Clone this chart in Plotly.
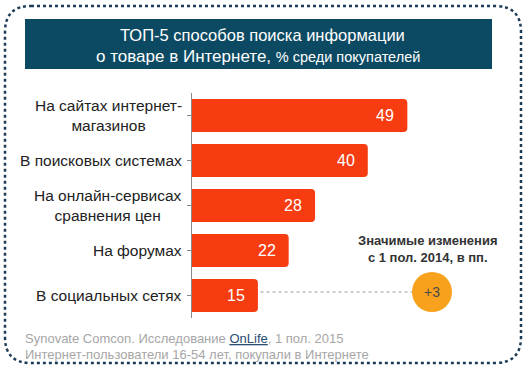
import plotly.graph_objects as go

# ---- data ----
categories = [
    "На сайтах интернет-<br>магазинов",
    "В поисковых системах",
    "На онлайн-сервисах<br>сравнения цен",
    "На форумах",
    "В социальных сетях",
]
values = [49, 40, 28, 22, 15]
change_category_index = 4
change_label = "+3"

title_line1 = "ТОП-5 способов поиска информации"
title_line2a = "о товаре в Интернете, "
title_line2b = "% среди покупателей"
change_title = "<b>Значимые изменения<br>с 1 пол. 2014, в пп.</b>"
footer1 = "Synovate Comcon. Исследование <span style='color:#2a4d74'><u>OnLife</u></span>, 1 пол. 2015"
footer2 = "Интернет-пользователи 16-54 лет, покупали в Интернете"

# ---- layout constants ----
W, H = 532, 369
L, R, T, B = 192, 6, 93, 51
PW, PH = W - L - R, H - T - B
XMAX = 76.0
PX_PER_UNIT = PW / XMAX

BAR_COLOR = "#f63c10"
CIRCLE_COLOR = "#f7a11d"
BOX_COLOR = "#0c4a63"
FONT = "Liberation Sans, Arial, sans-serif"


def px2paper_x(px):
    return (px - L) / PW


def py2paper_y(py):
    return (H - B - py) / PH


fig = go.Figure()
fig.add_trace(go.Bar(
    x=values, y=list(range(len(categories))), orientation="h",
    marker=dict(color=BAR_COLOR, line=dict(width=0), cornerradius=4),
    width=0.73, hoverinfo="skip",
))

annotations = []
# category labels
for i, c in enumerate(categories):
    annotations.append(dict(
        x=0, xref="paper", y=i, yref="y", xanchor="right", yanchor="middle",
        xshift=-8, text=c, showarrow=False, align="center",
        font=dict(family=FONT, size=15.5, color="#222222"),
    ))
# value labels
for i, v in enumerate(values):
    annotations.append(dict(
        x=v, xref="x", y=i, yref="y", xanchor="right", yanchor="middle",
        xshift=-11, text=str(v), showarrow=False,
        font=dict(family=FONT, size=16, color="white"),
    ))

# title
annotations.append(dict(
    x=px2paper_x(262), xref="paper", y=py2paper_y(35), yref="paper",
    xanchor="center", yanchor="middle", text=title_line1, showarrow=False,
    font=dict(family=FONT, size=16.5, color="white"),
))
annotations.append(dict(
    x=px2paper_x(258), xref="paper", y=py2paper_y(56), yref="paper",
    xanchor="center", yanchor="middle",
    text=title_line2a + "<span style='font-size:14.5px'>" + title_line2b + "</span>",
    showarrow=False, font=dict(family=FONT, size=17, color="white"),
))

# change block
circle_cx = (432 - L) / PX_PER_UNIT
circle_y = change_category_index - 3.5 / (PH / len(categories))
annotations.append(dict(
    x=px2paper_x(428), xref="paper", y=py2paper_y(249), yref="paper",
    xanchor="center", yanchor="middle", text=change_title, showarrow=False,
    align="center", font=dict(family=FONT, size=13, color="#333333"),
))
annotations.append(dict(
    x=circle_cx, xref="x", y=circle_y, yref="y", xanchor="center", yanchor="middle",
    text=change_label, showarrow=False,
    font=dict(family=FONT, size=14, color="#4a4a4a"),
))

# footer
annotations.append(dict(
    x=px2paper_x(23), xref="paper", y=py2paper_y(338), yref="paper",
    xanchor="left", yanchor="middle", text=footer1, showarrow=False,
    font=dict(family=FONT, size=13, color="#a6a6a6"),
))
annotations.append(dict(
    x=px2paper_x(23), xref="paper", y=py2paper_y(354), yref="paper",
    xanchor="left", yanchor="middle", text=footer2, showarrow=False,
    font=dict(family=FONT, size=13, color="#a6a6a6"),
))

shapes = []
# dotted rounded border
bx0, bx1, by0, by1, r = 5, 521, 6, 363, 26
rx, ry = r / PW, r / PH
X0, X1 = px2paper_x(bx0), px2paper_x(bx1)
Y0, Y1 = py2paper_y(by1), py2paper_y(by0)  # bottom, top in paper
path = (f"M {X0+rx} {Y1} L {X1-rx} {Y1} Q {X1} {Y1} {X1} {Y1-ry} "
        f"L {X1} {Y0+ry} Q {X1} {Y0} {X1-rx} {Y0} L {X0+rx} {Y0} "
        f"Q {X0} {Y0} {X0} {Y0+ry} L {X0} {Y1-ry} Q {X0} {Y1} {X0+rx} {Y1} Z")
shapes.append(dict(type="path", xref="paper", yref="paper", path=path,
                   line=dict(color="#1d3c58", width=2.5, dash="dot"), layer="below"))
# title box
shapes.append(dict(type="rect", xref="paper", yref="paper",
                   x0=px2paper_x(25), x1=px2paper_x(492),
                   y0=py2paper_y(69), y1=py2paper_y(19),
                   fillcolor=BOX_COLOR, line=dict(width=0), layer="below"))
# connector dotted line
shapes.append(dict(type="line", xref="x", yref="y",
                   x0=values[change_category_index] + 0.6,
                   x1=circle_cx - 20 / PX_PER_UNIT,
                   y0=circle_y, y1=circle_y,
                   line=dict(color="#9a9a9a", width=1, dash="dot")))
# circle
shapes.append(dict(type="circle", xref="x", yref="y",
                   xsizemode="pixel", ysizemode="pixel",
                   xanchor=circle_cx, yanchor=circle_y,
                   x0=-20, x1=20, y0=-20, y1=20,
                   fillcolor=CIRCLE_COLOR, line=dict(width=0), layer="below"))

fig.update_layout(
    width=W, height=H, margin=dict(l=L, r=R, t=T, b=B),
    paper_bgcolor="white", plot_bgcolor="white", showlegend=False,
    bargap=0.27,
    xaxis=dict(range=[0, XMAX], visible=False, fixedrange=True),
    yaxis=dict(range=[len(categories) - 0.5, -0.5], tickmode="array",
               tickvals=list(range(len(categories))),
               ticktext=["" for _ in categories],
               ticks="outside", tickson="boundaries", ticklen=4, tickwidth=1,
               tickcolor="#8a8a8a", showline=True, linecolor="#8a8a8a",
               linewidth=1, showgrid=False, zeroline=False, fixedrange=True),
    annotations=annotations, shapes=shapes,
)

fig.write_html(
    "out.html",
    config={"displayModeBar": False},
    post_script="document.body.style.margin='0';document.body.style.overflow='hidden';",
)
